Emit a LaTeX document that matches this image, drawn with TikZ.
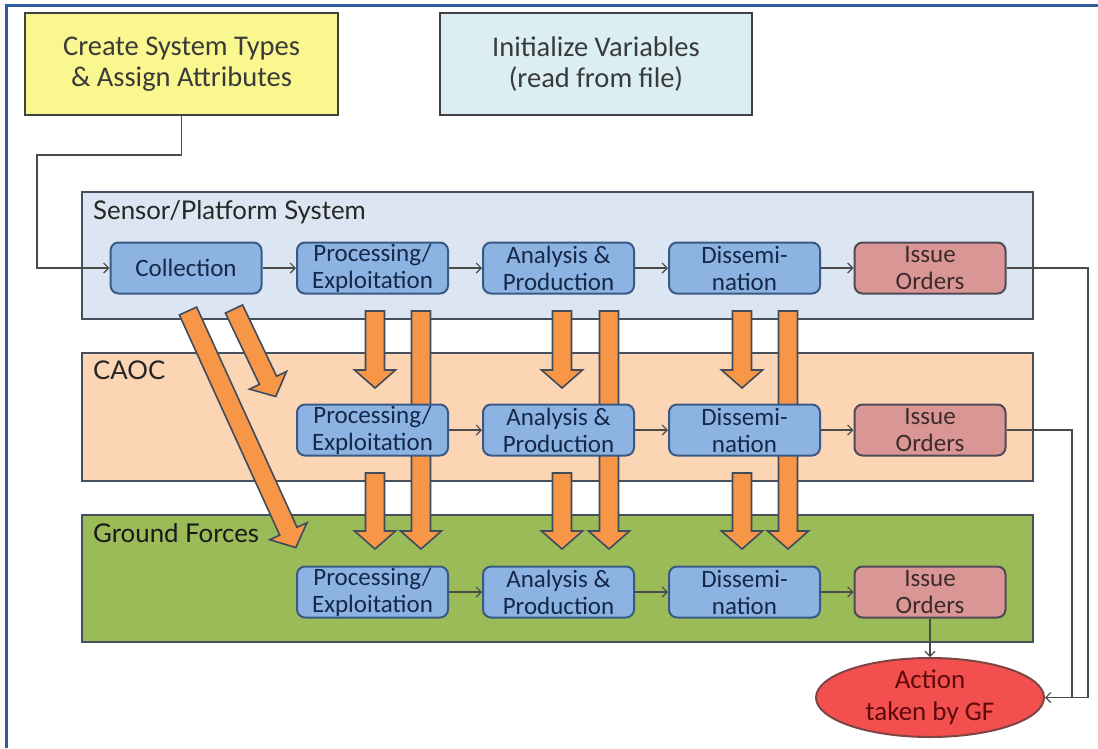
\documentclass[tikz,border=0pt]{standalone}
\usepackage{fontspec}
\setmainfont{Carlito}
\newfontfamily\labelfont{Lato}
\usetikzlibrary{shapes.geometric,arrows.meta}
\definecolor{frameblue}{HTML}{2E5B9A}
\definecolor{yellowfill}{HTML}{F9F78E}
\definecolor{initfill}{HTML}{DAEEF3}
\definecolor{topdraw}{HTML}{404040}
\definecolor{sensfill}{HTML}{DCE6F2}
\definecolor{caocfill}{HTML}{FCD5B5}
\definecolor{gffill}{HTML}{9BBB59}
\definecolor{banddraw}{HTML}{45505C}
\definecolor{boxfill}{HTML}{8DB3E2}
\definecolor{boxdraw}{HTML}{3A5A85}
\definecolor{boxtext}{HTML}{15284A}
\definecolor{issuefill}{HTML}{D99694}
\definecolor{issuedraw}{HTML}{4F4A58}
\definecolor{issuetext}{HTML}{3D2B2B}
\definecolor{orangefill}{HTML}{F79646}
\definecolor{orangedraw}{HTML}{3E4C5C}
\definecolor{actfill}{HTML}{F44F4F}
\definecolor{actdraw}{HTML}{7F4545}
\definecolor{acttext}{HTML}{5C0A0A}
\definecolor{connc}{HTML}{4A4A4A}
\tikzset{
  topbox/.style={draw=topdraw, line width=2pt, minimum height=102pt, inner sep=0pt, align=center, text=topdraw!90!black, font=\fontsize{28.5}{31}\selectfont},
  band/.style={draw=banddraw, line width=2pt, minimum width=951pt, inner sep=0pt},
  bandlabel/.style={anchor=base west, inner sep=0pt, font=\labelfont\fontsize{25.8}{28}\selectfont},
  stagebox/.style={draw=boxdraw, fill=boxfill, line width=2pt, rounded corners=8pt, minimum width=151pt, minimum height=51pt, inner sep=0pt, align=center, text=boxtext, font=\fontsize{25}{27}\selectfont},
  issuebox/.style={stagebox, draw=issuedraw, fill=issuefill, text=issuetext},
  conn/.style={draw=connc, line width=1.2pt, -{Straight Barb[length=5pt,width=10pt]}},
  plainconn/.style={draw=connc, line width=1.2pt},
  blockarrow/.style={draw=orangedraw, fill=orangefill, line width=1.6pt, line join=miter},
  pics/fatarrow/.style={code={
    \draw[blockarrow] (-9.5,0) -- (-9.5,#1-18) -- (-20.5,#1-18) -- (0,#1) -- (20.5,#1-18) -- (9.5,#1-18) -- (9.5,0) -- cycle;
  }}
}
\begin{document}
\begin{tikzpicture}[x=1pt,y=-1pt]
\useasboundingbox (0,0) rectangle (1098,748);
\fill[white] (0,0) rectangle (1098,748);
% outer frame
\draw[frameblue, line width=3pt] (1098,5.5) -- (6.5,5.5) -- (6.5,748);

% top boxes
\node[topbox, fill=yellowfill, minimum width=313pt] (create) at (181.5,64) {Create System Types\\\& Assign Attributes};
\node[topbox, fill=initfill, minimum width=312pt] (init) at (596,64) {Initialize Variables\\(read from file)};

% bands
\node[band, fill=sensfill, minimum height=127pt] (sens) at (557.5,255.5) {};
\node[band, fill=caocfill, minimum height=128pt] (caoc) at (557.5,417) {};
\node[band, fill=gffill, minimum height=127pt] (gf) at (557.5,578.5) {};
\node[bandlabel, text=black!85] (senslbl) at (93,219) {Sensor/Platform System};
\node[bandlabel, text=black!85] (caoclbl) at (93,379) {CAOC};
\node[bandlabel, text=black!90] (gflbl) at (93,542) {Ground Forces};

% block arrows
\pic[rotate=24.5] at (188,311) {fatarrow=260};
\pic[rotate=25.5] at (234,309) {fatarrow=97};
\pic at (375,311) {fatarrow=77};
\pic at (375,473) {fatarrow=76};
\pic at (421,311) {fatarrow=238};
\pic at (562,311) {fatarrow=77};
\pic at (562,473) {fatarrow=76};
\pic at (609,311) {fatarrow=238};
\pic at (742,311) {fatarrow=77};
\pic at (742,473) {fatarrow=76};
\pic at (788,311) {fatarrow=238};

% row 1
\node[stagebox] (r1c) at (186,268) {Collection};
\node[stagebox] (r1p) at (372.5,268) {Processing/\\Exploitation};
\node[stagebox] (r1a) at (558.5,268) {Analysis \&\\Production};
\node[stagebox] (r1d) at (744.5,268) {Dissemi-\\nation};
\node[issuebox] (r1i) at (930,268) {Issue\\Orders};
% row 2
\node[stagebox] (r2p) at (372.5,430) {Processing/\\Exploitation};
\node[stagebox] (r2a) at (558.5,430) {Analysis \&\\Production};
\node[stagebox] (r2d) at (744.5,430) {Dissemi-\\nation};
\node[issuebox] (r2i) at (930,430) {Issue\\Orders};
% row 3
\node[stagebox] (r3p) at (372.5,592) {Processing/\\Exploitation};
\node[stagebox] (r3a) at (558.5,592) {Analysis \&\\Production};
\node[stagebox] (r3d) at (744.5,592) {Dissemi-\\nation};
\node[issuebox] (r3i) at (930,592) {Issue\\Orders};

% action ellipse
\node[ellipse, draw=actdraw, fill=actfill, line width=2pt, minimum width=228pt, minimum height=79pt, inner sep=0pt, align=center, text=acttext, font=\fontsize{27}{32}\selectfont] (act) at (930,697.5) {Action\\taken by GF};

% connectors
\coordinate (k1) at (37,155);
\draw[conn] (create.south) |- (k1) |- (r1c.west);
\draw[conn] (r1c) -- (r1p);
\draw[conn] (r1p) -- (r1a);
\draw[conn] (r1a) -- (r1d);
\draw[conn] (r1d) -- (r1i);
\draw[conn] (r2p) -- (r2a);
\draw[conn] (r2a) -- (r2d);
\draw[conn] (r2d) -- (r2i);
\draw[conn] (r3p) -- (r3a);
\draw[conn] (r3a) -- (r3d);
\draw[conn] (r3d) -- (r3i);
\coordinate (k2) at (1088,697.5);
\coordinate (k3) at (1072,697.5);
\draw[conn] (r1i.east) -| (k2) -- (act.east);
\draw[plainconn] (r2i.east) -| (k3);
\draw[conn] (r3i.south) -- (act.north);
\end{tikzpicture}
\end{document}
